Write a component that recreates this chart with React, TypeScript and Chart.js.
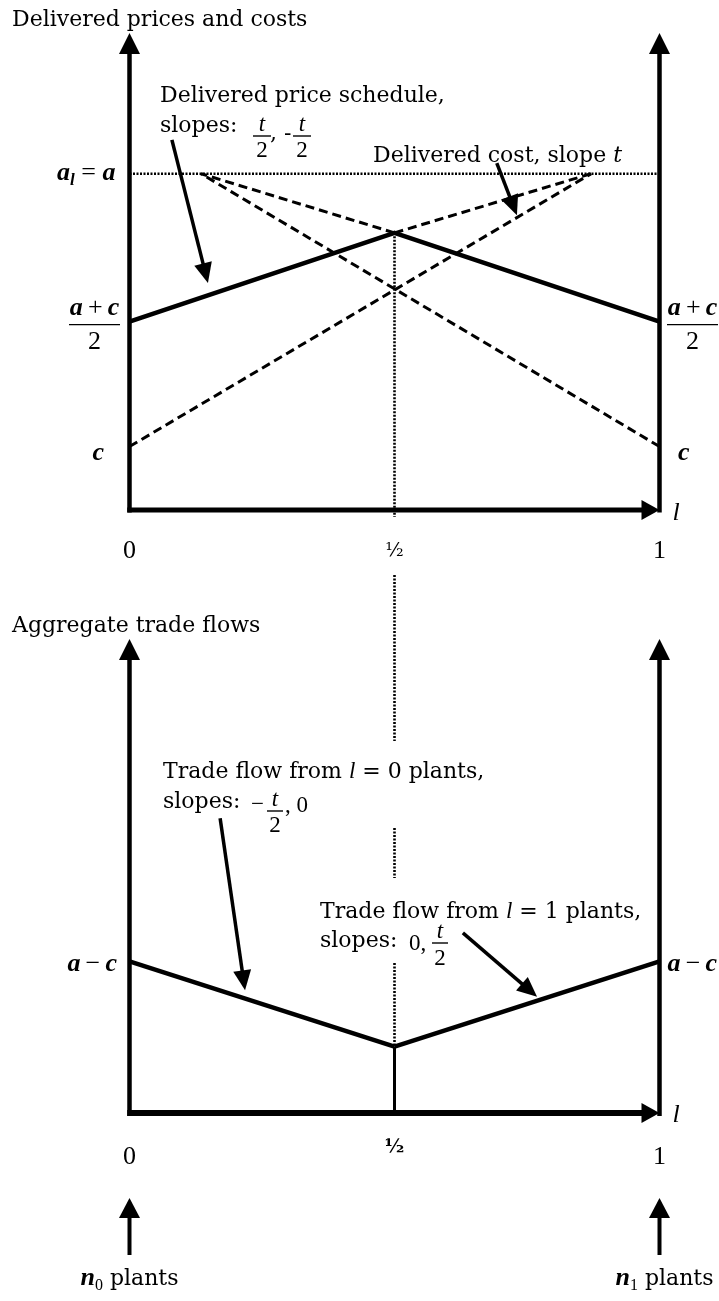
import { useEffect, useRef } from 'react';
import { Chart, registerables } from 'chart.js';

Chart.register(...registerables);

const PAGE_W = 719;
const PAGE_H = 1301;

// location between the two plant sites, l in [0, 1]
const L_TICKS = [0, 0.5, 1];
const L_TICK_LABELS = ['0', '½', '1'];

// upper panel: delivered prices and costs
const DEMAND_A = 7.05; // a_l = a
const PRICE_L = [0, 0.5, 1];
const PRICE_V = [3.95, 5.81, 3.95];
const COST0_L = [0, 0.871];
const COST0_V = [1.33, 7.05];
const COST1_L = [1, 0.135];
const COST1_V = [1.33, 7.05];
const PRICE0_EXT_L = [0.5, 0.871];
const PRICE0_EXT_V = [5.81, 7.05];
const PRICE1_EXT_L = [0.5, 0.135];
const PRICE1_EXT_V = [5.81, 7.05];

// lower panel: aggregate trade flows
const FLOW0_L = [0, 0.5];
const FLOW0_V = [3.2, 1.4];
const FLOW1_L = [0.5, 1];
const FLOW1_V = [1.4, 3.2];
const DROP_L = [0.5, 0.5];
const DROP_V = [0, 1.4];

const TEXT = '22px "DejaVu Serif"';
const TEXT_I = 'italic 22px "DejaVu Serif"';
const MI = 'italic 26px "Liberation Serif"';
const MB = 'bold italic 26px "Liberation Serif"';
const MR = '26px "Liberation Serif"';
const SUB_B = 'bold italic 17px "Liberation Serif"';
const SUB_R = '16px "Liberation Serif"';
const FI = 'italic 23px "Liberation Serif"';
const FR = '23px "Liberation Serif"';
const HALF_R = '19px "DejaVu Serif"';
const HALF_B = 'bold 19px "DejaVu Serif"';
const DOT = [2, 1.5];
const DASH = [9, 5];

type Run = [string, string, number?];

function pts(ls: number[], vs: number[]) {
  return ls.map((l, i) => ({ x: l, y: vs[i] }));
}

function series(ls: number[], vs: number[], width: number, dash: number[] = []) {
  return {
    data: pts(ls, vs),
    showLine: true,
    borderColor: '#000',
    backgroundColor: '#000',
    borderWidth: width,
    borderDash: dash,
    pointRadius: 0,
    pointHoverRadius: 0,
    fill: false,
    tension: 0,
    clip: false as any,
    borderCapStyle: 'butt' as const,
    borderJoinStyle: 'miter' as const,
  };
}

function runsWidth(ctx: CanvasRenderingContext2D, runs: Run[]) {
  let w = 0;
  for (const [t, f] of runs) {
    ctx.font = f;
    w += ctx.measureText(t).width;
  }
  return w;
}

function drawRuns(
  ctx: CanvasRenderingContext2D,
  x: number,
  y: number,
  runs: Run[],
  align: 'left' | 'center' | 'right' = 'left'
) {
  const w = runsWidth(ctx, runs);
  let sx = align === 'left' ? x : align === 'right' ? x - w : x - w / 2;
  ctx.textAlign = 'left';
  ctx.textBaseline = 'alphabetic';
  for (const [t, f, dy] of runs) {
    ctx.font = f;
    ctx.fillText(t, sx, y + (dy || 0));
    sx += ctx.measureText(t).width;
  }
  return sx;
}

function seg(
  ctx: CanvasRenderingContext2D,
  x1: number,
  y1: number,
  x2: number,
  y2: number,
  w: number,
  dash: number[] = []
) {
  ctx.beginPath();
  ctx.setLineDash(dash);
  ctx.lineWidth = w;
  ctx.moveTo(x1, y1);
  ctx.lineTo(x2, y2);
  ctx.stroke();
  ctx.setLineDash([]);
}

function tri(
  ctx: CanvasRenderingContext2D,
  tx: number,
  ty: number,
  ux: number,
  uy: number,
  len: number,
  half: number
) {
  const bx = tx - ux * len;
  const by = ty - uy * len;
  const px = -uy;
  const py = ux;
  ctx.beginPath();
  ctx.moveTo(tx, ty);
  ctx.lineTo(bx + px * half, by + py * half);
  ctx.lineTo(bx - px * half, by - py * half);
  ctx.closePath();
  ctx.fill();
}

function pointer(ctx: CanvasRenderingContext2D, x1: number, y1: number, x2: number, y2: number) {
  const d = Math.hypot(x2 - x1, y2 - y1);
  const ux = (x2 - x1) / d;
  const uy = (y2 - y1) / d;
  seg(ctx, x1, y1, x2 - ux * 16, y2 - uy * 16, 3.5);
  tri(ctx, x2, y2, ux, uy, 20, 9);
}

function frac(
  ctx: CanvasRenderingContext2D,
  cx: number,
  barY: number,
  num: Run[],
  den: Run[],
  halfW: number,
  up: number,
  down: number,
  barW = 1.4
) {
  drawRuns(ctx, cx, barY - up, num, 'center');
  drawRuns(ctx, cx, barY + down, den, 'center');
  seg(ctx, cx - halfW, barY, cx + halfW, barY, barW);
}

function axes(chart: any, xAxisWidth: number) {
  const { ctx, chartArea, scales } = chart;
  const x0 = scales.x.getPixelForValue(0);
  const x1 = scales.x.getPixelForValue(1);
  const yb = scales.y.getPixelForValue(0);
  const yt = chartArea.top;
  seg(ctx, x0, yb + xAxisWidth / 2, x0, yt + 18, 4.5);
  seg(ctx, x1, yb + xAxisWidth / 2, x1, yt + 18, 4.5);
  seg(ctx, x0 - 2.25, yb, x1 - 14, yb, xAxisWidth);
  tri(ctx, x0, yt, 0, -1, 21, 10.5);
  tri(ctx, x1, yt, 0, -1, 21, 10.5);
  tri(ctx, x1, yb, 1, 0, 18, 10);
}

const upperDecor = {
  id: 'upperDecor',
  afterDatasetsDraw(chart: any) {
    const { ctx, scales } = chart;
    const X = (l: number) => scales.x.getPixelForValue(l);
    const Y = (v: number) => scales.y.getPixelForValue(v);
    const x0 = X(0);
    const x1 = X(1);
    const xm = X(0.5);
    const yb = Y(0);
    ctx.save();
    ctx.fillStyle = '#000';
    ctx.strokeStyle = '#000';
    ctx.lineCap = 'butt';

    // dotted guide at l = 1/2, running down towards the lower panel
    seg(ctx, xm, Y(PRICE_V[1]), xm, yb + 7, 2.6, DOT);
    seg(ctx, xm, yb + 65, xm, yb + 231, 2.6, DOT);

    axes(chart, 5);

    drawRuns(ctx, 12, 26, [['Delivered prices and costs', TEXT]]);

    L_TICKS.forEach((l, i) => {
      const half = i === 1;
      drawRuns(ctx, X(l), yb + (half ? 46 : 48), [[L_TICK_LABELS[i], half ? HALF_R : MR]], 'center');
    });
    drawRuns(ctx, x1 + 13, yb + 10, [['l', MI]]);

    // level labels
    drawRuns(ctx, x0 - 14, Y(DEMAND_A) + 6.5, [['a', MB], ['l', SUB_B, 5], [' = ', MR], ['a', MB]], 'right');
    const acNum: Run[] = [['a', MB], ['\u2009+\u2009', MR], ['c', MB]];
    frac(ctx, x0 - 35, Y(PRICE_V[0]) + 3, acNum, [['2', MR]], 25.5, 10, 24);
    frac(ctx, x1 + 33, Y(PRICE_V[2]) + 3, acNum, [['2', MR]], 25.5, 10, 24);
    drawRuns(ctx, x0 - 25.5, Y(COST0_V[0]) + 13, [['c', MB]], 'right');
    drawRuns(ctx, x1 + 18.5, Y(COST1_V[0]) + 13, [['c', MB]]);

    // annotations
    drawRuns(ctx, 160, 102, [['Delivered price schedule,', TEXT]]);
    drawRuns(ctx, 160, 132, [['slopes:', TEXT]]);
    frac(ctx, 262, 136, [['t', FI]], [['2', FR]], 9, 5, 21);
    drawRuns(ctx, 270, 140, [[', -', TEXT]]);
    frac(ctx, 302, 136, [['t', FI]], [['2', FR]], 9, 5, 21);
    drawRuns(ctx, 373, 162, [['Delivered cost, slope ', TEXT], ['t', TEXT_I]]);

    pointer(ctx, X(0.08), Y(7.76), X(0.148), Y(4.76));
    pointer(ctx, X(0.693), Y(7.27), X(0.731), Y(6.18));
    ctx.restore();
  },
};

const lowerDecor = {
  id: 'lowerDecor',
  afterDatasetsDraw(chart: any) {
    const { ctx, scales } = chart;
    const X = (l: number) => scales.x.getPixelForValue(l);
    const Y = (v: number) => scales.y.getPixelForValue(v);
    const x0 = X(0);
    const x1 = X(1);
    const xm = X(0.5);
    const yb = Y(0);
    ctx.save();
    ctx.fillStyle = '#000';
    ctx.strokeStyle = '#000';
    ctx.lineCap = 'butt';

    // dotted guide at l = 1/2, broken around the annotation text
    seg(ctx, xm, yb - 285, xm, yb - 235, 2.6, DOT);
    seg(ctx, xm, yb - 150, xm, Y(DROP_V[1]), 2.6, DOT);

    axes(chart, 6);

    drawRuns(ctx, 12, 632, [['Aggregate trade flows', TEXT]]);

    L_TICKS.forEach((l, i) => {
      const half = i === 1;
      drawRuns(ctx, X(l), yb + (half ? 39 : 51), [[L_TICK_LABELS[i], half ? HALF_B : MR]], 'center');
    });
    drawRuns(ctx, x1 + 13, yb + 9, [['l', MI]]);

    const amc: Run[] = [['a', MB], ['\u2009\u2212\u2009', MR], ['c', MB]];
    drawRuns(ctx, x0 - 12.5, Y(FLOW0_V[0]) + 10, amc, 'right');
    drawRuns(ctx, x1 + 8, Y(FLOW1_V[1]) + 10, amc);

    drawRuns(ctx, 163, 778, [['Trade flow from ', TEXT], ['l', FI], [' = 0 plants,', TEXT]]);
    drawRuns(ctx, 163, 808, [['slopes:', TEXT]]);
    drawRuns(ctx, 251, 811, [['\u2212', FR]]);
    frac(ctx, 275, 811, [['t', FI]], [['2', FR]], 8, 5, 21);
    drawRuns(ctx, 285, 812, [[', 0', FR]]);

    drawRuns(ctx, 320, 918, [['Trade flow from ', TEXT], ['l', FI], [' = 1 plants,', TEXT]]);
    drawRuns(ctx, 320, 947, [['slopes:', TEXT]]);
    drawRuns(ctx, 409, 950, [['0,', FR]]);
    frac(ctx, 440, 943, [['t', FI]], [['2', FR]], 8, 5, 22);

    pointer(ctx, X(0.171), Y(6.22), X(0.218), Y(2.59));
    pointer(ctx, X(0.629), Y(3.8), X(0.769), Y(2.45));

    // plant locations
    [x0, x1].forEach((px) => {
      seg(ctx, px, yb + 142, px, yb + 103, 4);
      tri(ctx, px, yb + 85, 0, -1, 20, 10.5);
    });
    drawRuns(ctx, x0, yb + 172, [['n', MB], ['0', SUB_R, 5], [' plants', TEXT]], 'center');
    drawRuns(ctx, x1 + 5, yb + 172, [['n', MB], ['1', SUB_R, 5], [' plants', TEXT]], 'center');
    ctx.restore();
  },
};

function baseOptions(padTop: number, padBottom: number, plugin: any) {
  return {
    type: 'scatter' as const,
    plugins: [plugin],
    options: {
      responsive: false,
      maintainAspectRatio: false,
      animation: false as const,
      devicePixelRatio: 1,
      events: [],
      layout: { padding: { left: 129.5, right: PAGE_W - 659.5, top: padTop, bottom: padBottom } },
      scales: {
        x: { type: 'linear' as const, min: 0, max: 1, display: false },
        y: { type: 'linear' as const, min: 0, max: 10, display: false },
      },
      plugins: { legend: { display: false }, tooltip: { enabled: false } },
    },
  };
}

export default function App() {
  const upperRef = useRef<HTMLCanvasElement>(null);
  const lowerRef = useRef<HTMLCanvasElement>(null);

  useEffect(() => {
    if (!upperRef.current || !lowerRef.current) return;
    const upper = new Chart(upperRef.current, {
      ...baseOptions(33, PAGE_H - 510, upperDecor),
      data: {
        datasets: [
          series([0, 1], [DEMAND_A, DEMAND_A], 2.6, DOT),
          series(COST0_L, COST0_V, 3, DASH),
          series(COST1_L, COST1_V, 3, DASH),
          series(PRICE0_EXT_L, PRICE0_EXT_V, 3, DASH),
          series(PRICE1_EXT_L, PRICE1_EXT_V, 3, DASH),
          series(PRICE_L, PRICE_V, 4.5),
        ],
      },
    } as any);
    const lower = new Chart(lowerRef.current, {
      ...baseOptions(639, PAGE_H - 1113, lowerDecor),
      data: {
        datasets: [
          series(FLOW0_L, FLOW0_V, 4.5),
          series(FLOW1_L, FLOW1_V, 4.5),
          series(DROP_L, DROP_V, 3),
        ],
      },
    } as any);
    let alive = true;
    const fonts = [TEXT, TEXT_I, MI, MB, MR, FR, FI, HALF_R, HALF_B];
    Promise.all(fonts.map((f) => document.fonts.load(f).catch(() => null))).then(() => {
      if (!alive) return;
      upper.draw();
      lower.draw();
    });
    return () => {
      alive = false;
      upper.destroy();
      lower.destroy();
    };
  }, []);

  const canvasStyle: React.CSSProperties = {
    position: 'absolute',
    left: 0,
    top: 0,
    width: PAGE_W,
    height: PAGE_H,
  };

  return (
    <div style={{ position: 'absolute', left: 0, top: 0, width: PAGE_W, height: PAGE_H, background: '#fff' }}>
      <canvas ref={upperRef} width={PAGE_W} height={PAGE_H} style={canvasStyle} />
      <canvas ref={lowerRef} width={PAGE_W} height={PAGE_H} style={canvasStyle} />
    </div>
  );
}
